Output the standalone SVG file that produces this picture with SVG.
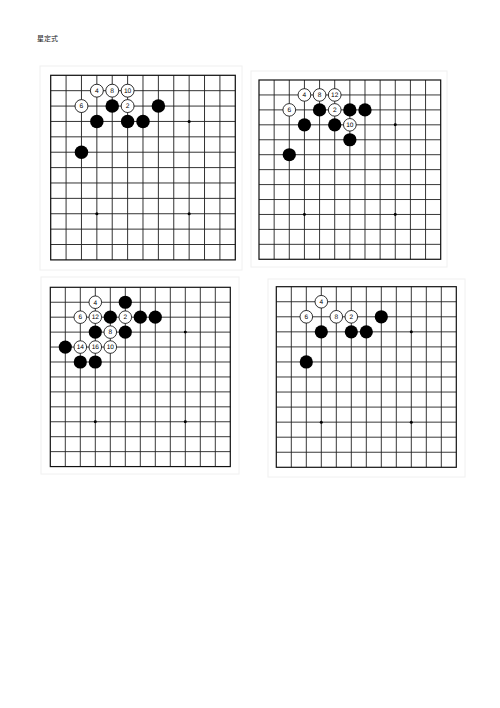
<svg xmlns="http://www.w3.org/2000/svg" xmlns:xlink="http://www.w3.org/1999/xlink" width="500" height="708" viewBox="0 0 500 708">
<defs>
<style>
.frame{fill:none;stroke:#f0f0f0;stroke-width:1}
.grid{fill:none;stroke:#222;stroke-width:0.9}
.edge{fill:none;stroke:#111;stroke-width:1.2}
.star{fill:#000}
.b{fill:#000}
.w{fill:#fff;stroke:#000;stroke-width:0.8}
.n{font-family:"Liberation Sans",Arial,sans-serif;font-size:6.5px;fill:#000;text-anchor:middle;text-rendering:geometricPrecision}
.title{font-family:"Noto Sans CJK SC","Noto Sans CJK JP",sans-serif;font-size:7px;fill:#222}
</style>
<g id="grid">
<path class="grid" d="M0 15H180M0 30H180M0 45H180M0 60H180M0 75H180M0 90H180M0 105H180M0 120H180M0 135H180M0 150H180M0 165H180M15 0V180M30 0V180M45 0V180M60 0V180M75 0V180M90 0V180M105 0V180M120 0V180M135 0V180M150 0V180M165 0V180"/>
<rect class="edge" x="0" y="0" width="180" height="180"/>
<circle class="star" cx="45" cy="45" r="1.5"/>
<circle class="star" cx="135" cy="45" r="1.5"/>
<circle class="star" cx="45" cy="135" r="1.5"/>
<circle class="star" cx="135" cy="135" r="1.5"/>
</g>
</defs>
<rect width="500" height="708" fill="#fff"/>
<text id="title" class="title" x="37" y="41">星定式</text>

<rect class="frame" x="40" y="66" width="202" height="204"/>
<rect class="frame" x="251" y="71" width="196" height="196"/>
<rect class="frame" x="41" y="277" width="198" height="197"/>
<rect class="frame" x="268" y="279" width="197" height="198"/>

<g id="board1" transform="translate(50.7,75.3) scale(1.0255)">
<use xlink:href="#grid"/>
<g id="b1-w4"><circle class="w" cx="45" cy="15" r="6.3"/><text class="n" x="45" y="15" dy="2.3">4</text></g>
<g id="b1-w8"><circle class="w" cx="60" cy="15" r="6.3"/><text class="n" x="60" y="15" dy="2.3">8</text></g>
<g id="b1-w10"><circle class="w" cx="75" cy="15" r="6.3"/><text class="n" x="75" y="15" dy="2.3">10</text></g>
<g id="b1-w6"><circle class="w" cx="30" cy="30" r="6.3"/><text class="n" x="30" y="30" dy="2.3">6</text></g>
<g id="b1-w2"><circle class="w" cx="75" cy="30" r="6.3"/><text class="n" x="75" y="30" dy="2.3">2</text></g>
<g id="b1-b1"><circle class="b" cx="60" cy="30" r="6.6"/></g>
<g id="b1-b2"><circle class="b" cx="105" cy="30" r="6.6"/></g>
<g id="b1-b3"><circle class="b" cx="45" cy="45" r="6.6"/></g>
<g id="b1-b4"><circle class="b" cx="75" cy="45" r="6.6"/></g>
<g id="b1-b5"><circle class="b" cx="90" cy="45" r="6.6"/></g>
<g id="b1-b6"><circle class="b" cx="30" cy="75" r="6.6"/></g>
</g>

<g id="board2" transform="translate(259,80) scale(1.0094,0.996)">
<use xlink:href="#grid"/>
<g id="b2-w4"><circle class="w" cx="45" cy="15" r="6.3"/><text class="n" x="45" y="15" dy="2.3">4</text></g>
<g id="b2-w8"><circle class="w" cx="60" cy="15" r="6.3"/><text class="n" x="60" y="15" dy="2.3">8</text></g>
<g id="b2-w12"><circle class="w" cx="75" cy="15" r="6.3"/><text class="n" x="75" y="15" dy="2.3">12</text></g>
<g id="b2-w6"><circle class="w" cx="30" cy="30" r="6.3"/><text class="n" x="30" y="30" dy="2.3">6</text></g>
<g id="b2-w2"><circle class="w" cx="75" cy="30" r="6.3"/><text class="n" x="75" y="30" dy="2.3">2</text></g>
<g id="b2-w10"><circle class="w" cx="90" cy="45" r="6.3"/><text class="n" x="90" y="45" dy="2.3">10</text></g>
<g id="b2-b1"><circle class="b" cx="60" cy="30" r="6.6"/></g>
<g id="b2-b2"><circle class="b" cx="90" cy="30" r="6.6"/></g>
<g id="b2-b3"><circle class="b" cx="105" cy="30" r="6.6"/></g>
<g id="b2-b4"><circle class="b" cx="45" cy="45" r="6.6"/></g>
<g id="b2-b5"><circle class="b" cx="75" cy="45" r="6.6"/></g>
<g id="b2-b6"><circle class="b" cx="90" cy="60" r="6.6"/></g>
<g id="b2-b7"><circle class="b" cx="30" cy="75" r="6.6"/></g>
</g>

<g id="board3" transform="translate(50.3,287.3) scale(1,0.996)">
<use xlink:href="#grid"/>
<g id="b3-w4"><circle class="w" cx="45" cy="15" r="6.3"/><text class="n" x="45" y="15" dy="2.3">4</text></g>
<g id="b3-w6"><circle class="w" cx="30" cy="30" r="6.3"/><text class="n" x="30" y="30" dy="2.3">6</text></g>
<g id="b3-w12"><circle class="w" cx="45" cy="30" r="6.3"/><text class="n" x="45" y="30" dy="2.3">12</text></g>
<g id="b3-w2"><circle class="w" cx="75" cy="30" r="6.3"/><text class="n" x="75" y="30" dy="2.3">2</text></g>
<g id="b3-w8"><circle class="w" cx="60" cy="45" r="6.3"/><text class="n" x="60" y="45" dy="2.3">8</text></g>
<g id="b3-w14"><circle class="w" cx="30" cy="60" r="6.3"/><text class="n" x="30" y="60" dy="2.3">14</text></g>
<g id="b3-w16"><circle class="w" cx="45" cy="60" r="6.3"/><text class="n" x="45" y="60" dy="2.3">16</text></g>
<g id="b3-w10"><circle class="w" cx="60" cy="60" r="6.3"/><text class="n" x="60" y="60" dy="2.3">10</text></g>
<g id="b3-b1"><circle class="b" cx="75" cy="15" r="6.6"/></g>
<g id="b3-b2"><circle class="b" cx="60" cy="30" r="6.6"/></g>
<g id="b3-b3"><circle class="b" cx="90" cy="30" r="6.6"/></g>
<g id="b3-b4"><circle class="b" cx="105" cy="30" r="6.6"/></g>
<g id="b3-b5"><circle class="b" cx="45" cy="45" r="6.6"/></g>
<g id="b3-b6"><circle class="b" cx="75" cy="45" r="6.6"/></g>
<g id="b3-b7"><circle class="b" cx="15" cy="60" r="6.6"/></g>
<g id="b3-b8"><circle class="b" cx="30" cy="75" r="6.6"/></g>
<g id="b3-b9"><circle class="b" cx="45" cy="75" r="6.6"/></g>
</g>

<g id="board4" transform="translate(276.3,286.7) scale(1,1.0033)">
<use xlink:href="#grid"/>
<g id="b4-w4"><circle class="w" cx="45" cy="15" r="6.3"/><text class="n" x="45" y="15" dy="2.3">4</text></g>
<g id="b4-w6"><circle class="w" cx="30" cy="30" r="6.3"/><text class="n" x="30" y="30" dy="2.3">6</text></g>
<g id="b4-w8"><circle class="w" cx="60" cy="30" r="6.3"/><text class="n" x="60" y="30" dy="2.3">8</text></g>
<g id="b4-w2"><circle class="w" cx="75" cy="30" r="6.3"/><text class="n" x="75" y="30" dy="2.3">2</text></g>
<g id="b4-b1"><circle class="b" cx="105" cy="30" r="6.6"/></g>
<g id="b4-b2"><circle class="b" cx="45" cy="45" r="6.6"/></g>
<g id="b4-b3"><circle class="b" cx="75" cy="45" r="6.6"/></g>
<g id="b4-b4"><circle class="b" cx="90" cy="45" r="6.6"/></g>
<g id="b4-b5"><circle class="b" cx="30" cy="75" r="6.6"/></g>
</g>
<g id="connectors"/>
</svg>
